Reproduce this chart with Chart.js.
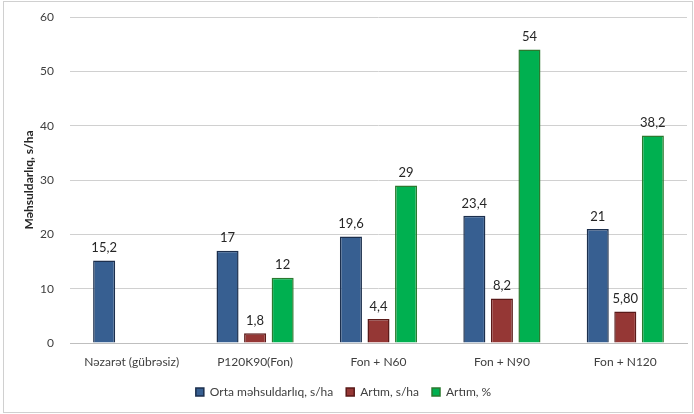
<!DOCTYPE html>
<html>
<head>
<meta charset="utf-8">
<script src="https://cdn.jsdelivr.net/npm/chart.js@4/dist/chart.umd.min.js"></script>
<style>
  html, body { margin: 0; padding: 0; background: #fff; }
  #chart { display: block; position: absolute; left: 0; top: 0; }
  #frame {
    position: absolute; left: 3px; top: 1px;
    width: 688px; height: 410px;
    border: 1px solid #d0d0d0;
    pointer-events: none;
  }
</style>
</head>
<body>
<canvas id="chart" width="694" height="414"></canvas>
<div id="frame"></div>
<script>
// categories and series
const categories = ["Nəzarət (gübrəsiz)", "P120K90(Fon)", "Fon + N60", "Fon + N90", "Fon + N120"];
const yieldValues = [15.2, 17, 19.6, 23.4, 21];
const gainValues = [null, 1.8, 4.4, 8.2, 5.8];
const gainPctValues = [null, 12, 29, 54, 38.2];

// labels as printed on the chart
const yieldLabels = ["15,2", "17", "19,6", "23,4", "21"];
const gainLabels = ["", "1,8", "4,4", "8,2", "5,80"];
const gainPctLabels = ["", "12", "29", "54", "38,2"];

const yTicks = [0, 10, 20, 30, 40, 50, 60];

const FONT = "Lato, 'Liberation Sans', sans-serif";

// simple value labels above the bars
const barLabels = {
    id: "barLabels",
    afterDatasetsDraw(chart) {
        const ctx = chart.ctx;
        ctx.save();
        ctx.font = "13px " + FONT;
        ctx.fillStyle = "#262626";
        ctx.textAlign = "center";
        ctx.textBaseline = "bottom";
        chart.data.datasets.forEach((ds, i) => {
            const meta = chart.getDatasetMeta(i);
            meta.data.forEach((bar, j) => {
                const txt = ds.valueLabels[j];
                if (!txt) return;
                ctx.fillText(txt, bar.x, bar.y - 6);
            });
        });
        ctx.restore();
    }
};

new Chart(document.getElementById("chart"), {
    type: "bar",
    data: {
        labels: categories,
        datasets: [
            {
                label: "Orta məhsuldarlıq, s/ha",
                data: yieldValues,
                valueLabels: yieldLabels,
                backgroundColor: "#375f91",
                borderColor: "#1c2f4d",
                borderWidth: 1.5
            },
            {
                label: "Artım, s/ha",
                data: gainValues,
                valueLabels: gainLabels,
                backgroundColor: "#953735",
                borderColor: "#5a1a19",
                borderWidth: 1.5
            },
            {
                label: "Artım, %",
                data: gainPctValues,
                valueLabels: gainPctLabels,
                backgroundColor: "#00b050",
                borderColor: "#2b7a2f",
                borderWidth: 1.5
            }
        ]
    },
    options: {
        responsive: false,
        animation: false,
        layout: { padding: { top: 17, right: 7, left: 0, bottom: 6 } },
        datasets: {
            bar: { categoryPercentage: 0.67, barPercentage: 0.8, skipNull: false }
        },
        plugins: {
            legend: {
                position: "bottom",
                labels: {
                    boxWidth: 8,
                    boxHeight: 8,
                    padding: 13,
                    color: "#404040",
                    font: { family: FONT, size: 12 }
                }
            },
            tooltip: { enabled: false }
        },
        scales: {
            x: {
                afterFit: (s) => { s.height = 30; },
                grid: { display: false, drawTicks: false },
                border: { color: "#bfbfbf", width: 1 },
                ticks: {
                    color: "#404040",
                    padding: 12,
                    font: { family: FONT, size: 12 }
                }
            },
            y: {
                min: 0,
                max: 60,
                afterBuildTicks: (s) => { s.ticks = yTicks.map(v => ({ value: v })); },
                afterFit: (s) => {
                    s.width = 70;
                    s.paddingTop = 0;
                    s.paddingBottom = 0;
                },
                grid: { color: "#d0d0d0", drawTicks: false },
                border: { display: false },
                ticks: {
                    color: "#404040",
                    padding: 16,
                    font: { family: FONT, size: 12 }
                },
                title: {
                    display: true,
                    text: "Məhsuldarlıq, s/ha",
                    color: "#262626",
                    font: { family: FONT, size: 12, weight: "bold" },
                    padding: { top: 22, bottom: 0 }
                }
            }
        }
    },
    plugins: [barLabels]
});
</script>
</body>
</html>
